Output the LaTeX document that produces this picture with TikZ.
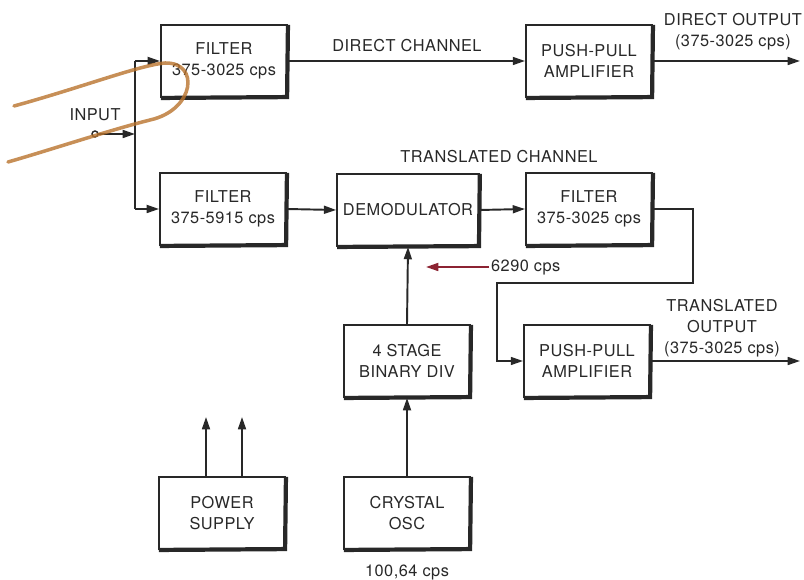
\documentclass[tikz,border=0pt]{standalone}
\usepackage{fontspec}
\setmainfont{TeX Gyre Heros}[LetterSpace=3]
\usetikzlibrary{arrows.meta}

\definecolor{ink}{RGB}{40,40,40}
\definecolor{pen}{RGB}{185,115,45}
\definecolor{redpen}{RGB}{140,35,50}

\tikzset{
    block/.style={draw=ink, line width=1.1pt, minimum width=2.52cm, minimum height=1.44cm,
        align=center, font=\fontsize{9.3}{12}\selectfont, text=ink},
    lbl/.style={align=center, font=\fontsize{9.3}{12}\selectfont, text=ink},
    flow/.style={draw=ink, line width=1.1pt, -{Triangle[length=7pt,width=4.5pt]}},
    wire/.style={draw=ink, line width=1.1pt}
}

\begin{document}
\begin{tikzpicture}[x=0.02cm, y=-0.02cm]
    \useasboundingbox (0,0) rectangle (804,580);

    % blocks
    \node[block] (filtA) at (224,61) {FILTER\\375-3025 cps};
    \node[block] (filtB) at (223,209) {FILTER\\375-5915 cps};
    \node[block] (ampA) at (589,61) {PUSH-PULL\\AMPLIFIER};
    \node[block] (demod) at (408,210) {DEMODULATOR};
    \node[block] (filtC) at (589,209) {FILTER\\375-3025 cps};
    \node[block] (div) at (407,361) {4 STAGE\\BINARY DIV};
    \node[block] (ampB) at (587,361) {PUSH-PULL\\AMPLIFIER};
    \node[block] (power) at (222,513) {POWER\\SUPPLY};
    \node[block] (osc) at (407,513) {CRYSTAL\\OSC};

    % heavy lower and right edges
    \foreach \n in {filtA,filtB,ampA,demod,filtC,div,ampB,power,osc}
        \draw[ink, line width=2.4pt, line join=miter]
            ([yshift=-0.5pt]\n.north east) -- ([shift={(-0.5pt,0.5pt)}]\n.south east) -- ([xshift=0.5pt]\n.south west);

    % input
    \draw[ink, line width=0.8pt] (95,134) circle (3);
    \coordinate (in) at (98,134);
    \coordinate (fork) at (135,134);
    \coordinate (forkA) at (135,61);
    \coordinate (forkB) at (135,209);
    \node[lbl] (inlbl) at (95,115) {INPUT};
    \draw[flow] (in) -- (fork);
    \draw[wire] (forkA) -- (forkB);
    \draw[flow] (forkA) -- (filtA.west);
    \draw[flow] (forkB) -- (filtB.west);

    % direct channel
    \draw[flow] (filtA.east) -- (ampA.west);
    \node[lbl] (dirlbl) at (407,46) {DIRECT CHANNEL};
    \coordinate (outA) at (800,61);
    \draw[flow] (ampA.east) -- (outA);
    \node[lbl, anchor=east, inner xsep=1pt] (outAlbl) at (804,32) {DIRECT OUTPUT\\(375-3025 cps)};

    % translated channel
    \node[lbl] (trlbl) at (499,157) {TRANSLATED CHANNEL};
    \draw[flow] (filtB.east) -- (demod.west);
    \draw[flow] (demod.east) -- (filtC.west);
    \draw[flow] (filtC.east) -| (693,283) -| (497,361) -- (ampB.west);
    \coordinate (outB) at (800,361);
    \draw[flow] (ampB.east) -- (outB);
    \node[lbl] (outBlbl) at (722,328) {TRANSLATED\\OUTPUT\\(375-3025 cps)};

    % reference chain
    \draw[flow] (osc.north) -- (div.south);
    \draw[flow] (div.north) -- (demod.south);
    \node[lbl, anchor=west, inner xsep=1pt] (reflbl) at (489,267) {6290 cps};
    \coordinate (refend) at (426,267);
    \draw[redpen, line width=1.1pt, -{Triangle[length=7pt,width=4.5pt]}] (reflbl.west) -- (refend);
    \node[lbl] (osclbl) at (407,572) {100,64 cps};

    % power leads
    \coordinate (pA) at (206,417);
    \coordinate (pB) at (242,417);
    \draw[flow] (power.north -| pA) -- (pA);
    \draw[flow] (power.north -| pB) -- (pB);

    % pen mark
    \draw[pen, line width=2pt, line cap=round, opacity=0.8]
        (14,106) .. controls (80,88) and (140,65) .. (165,63)
        .. controls (200,62) and (195,110) .. (150,120)
        .. controls (110,130) and (50,150) .. (8,162);
\end{tikzpicture}
\end{document}
